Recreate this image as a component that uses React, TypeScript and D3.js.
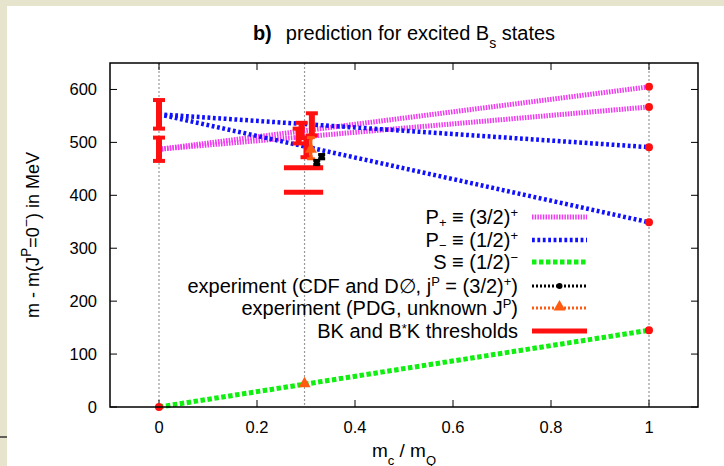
import React from "react";
import * as d3 from "d3";

const W = 724, H = 466;
const xTicks = [0, 0.2, 0.4, 0.6, 0.8, 1];
const xTickLabels = ["0", "0.2", "0.4", "0.6", "0.8", "1"];
const yTicks = [0, 100, 200, 300, 400, 500, 600];
const gridX = [0, 0.297, 1];

const lineX = [0, 1];
const pPlusA = [487, 605];
const pPlusB = [487, 567];
const pMinusA = [553, 491];
const pMinusB = [553, 349];
const sWave = [0, 145];

// lattice error bars: x, y, err
const latX = [0, 0, 0.285, 0.291, 0.301, 0.312];
const latY = [553, 487, 512, 523, 490, 534];
const latErr = [27, 22, 14, 14, 18, 21];

const expX = [0.322, 0.332];
const expY = [462, 473];
const expErr = [4, 4];

const pdgX = [0.31, 0.297];
const pdgY = [489, 46];
const pdgErr = [20, 0];

const thrLo = 0.255, thrHi = 0.335;
const thresholds = [406, 452];

const endX = [1, 1, 1, 1, 1, 0];
const endY = [605, 567, 491, 349, 145, 0];

const L = 110, R = 698, T = 63, B = 407;
const x = d3.scaleLinear().domain([-0.1, 1.1]).range([L, R]);
const y = d3.scaleLinear().domain([0, 650]).range([B, T]);

const MAG = "#f03cf0", BLU = "#1010ff", GRN = "#10f010", RED = "#ff1010", ORG = "#ff5a10";
const font = "'Liberation Sans', Arial, Helvetica, sans-serif";

function Seg({ ys, color, w, dash }: any) {
  const line = d3.line<number>().x((_, i) => x(lineX[i])).y((d) => y(d));
  return <path d={line(ys) || ""} stroke={color} strokeWidth={w} strokeDasharray={dash} fill="none" />;
}

function ErrBar({ cx, cy, err, color, w = 6, cap = 12, ct = 4 }: any) {
  const px = x(cx);
  return (
    <g stroke={color}>
      <line x1={px} x2={px} y1={y(cy - err)} y2={y(cy + err)} strokeWidth={w} />
      <line x1={px - cap / 2} x2={px + cap / 2} y1={y(cy - err)} y2={y(cy - err)} strokeWidth={ct} />
      <line x1={px - cap / 2} x2={px + cap / 2} y1={y(cy + err)} y2={y(cy + err)} strokeWidth={ct} />
    </g>
  );
}

function tri(cx: number, cy: number, s: number) {
  return `M${cx},${cy - s} L${cx + s},${cy + s * 0.75} L${cx - s},${cy + s * 0.75} Z`;
}

const sup = (t: string, fs = 13, sh: any = "super") => <tspan baselineShift={sh} fontSize={fs}>{t}</tspan>;
const sub = (t: string, fs = 13, sh: any = "sub") => <tspan baselineShift={sh} fontSize={fs}>{t}</tspan>;

export default function App() {
  const legX = 518, s1 = 532, s2 = 587;
  const rows = [217, 240, 262, 286, 308, 331];
  return (
    <div style={{ position: "absolute", left: 0, top: 0 }}>
      <svg width={W} height={H} style={{ display: "block" }} fontFamily={font}>
        <rect x={0} y={0} width={W} height={H} fill="#e6e4cd" />
        <rect x={7} y={6} width={W - 7} height={H - 6} fill="#ffffff" />
        <line x1={0} x2={7} y1={437} y2={437} stroke="#333" strokeWidth={1.5} />

        <text x={404} y={40} textAnchor="middle" fontSize={20}>
          <tspan fontWeight="bold">b)</tspan>
          <tspan dx={14}>{"prediction for excited B"}</tspan>
          {sub("s", 14)}
          <tspan>{" states"}</tspan>
        </text>

        {gridX.map((g, i) => (
          <line key={i} x1={x(g)} x2={x(g)} y1={T} y2={B} stroke="#999" strokeWidth={1.2} strokeDasharray="2,2" />
        ))}

        {/* ticks */}
        {yTicks.map((t) => (
          <g key={"y" + t} stroke="#000" strokeWidth={1}>
            <line x1={L} x2={L + 7} y1={y(t)} y2={y(t)} />
            <line x1={R} x2={R - 7} y1={y(t)} y2={y(t)} />
          </g>
        ))}
        {xTicks.map((t) => (
          <g key={"x" + t} stroke="#000" strokeWidth={1}>
            <line x1={x(t)} x2={x(t)} y1={B} y2={B - 7} />
            <line x1={x(t)} x2={x(t)} y1={T} y2={T + 7} />
          </g>
        ))}
        {yTicks.map((t) => (
          <text key={"yl" + t} x={97} y={y(t) + 6} textAnchor="end" fontSize={16.5}>{t}</text>
        ))}
        {xTicks.map((t, i) => (
          <text key={"xl" + t} x={x(t)} y={433} textAnchor="middle" fontSize={16.5}>{xTickLabels[i]}</text>
        ))}

        <text x={404} y={457} textAnchor="middle" fontSize={19}>
          <tspan>m</tspan>{sub("c", 13)}<tspan>{" / m"}</tspan>{sub("Q", 13)}
        </text>
        <text transform={`translate(39,${(T + B) / 2}) rotate(-90)`} textAnchor="middle" fontSize={18}>
          <tspan>{"m - m(J"}</tspan>{sup("P", 14)}<tspan>{"=0"}</tspan>{sup("\u2212", 14)}<tspan>{") in MeV"}</tspan>
        </text>

        {/* lines */}
        <Seg ys={sWave} color={GRN} w={5} dash="4.5,2.5" />
        <Seg ys={pPlusA} color={MAG} w={5} dash="1.5,1.2" />
        <Seg ys={pPlusB} color={MAG} w={5} dash="1.5,1.2" />
        <Seg ys={pMinusA} color={BLU} w={4.5} dash="2.8,2.6" />
        <Seg ys={pMinusB} color={BLU} w={4.5} dash="2.8,2.6" />

        {/* thresholds */}
        {thresholds.map((t, i) => (
          <line key={"th" + i} x1={x(thrLo)} x2={x(thrHi)} y1={y(t)} y2={y(t)} stroke={RED} strokeWidth={5} />
        ))}

        {/* lattice */}
        {latX.map((v, i) => (
          <ErrBar key={"lat" + i} cx={v} cy={latY[i]} err={latErr[i]} color={RED} />
        ))}
        {endX.map((v, i) => (
          <circle key={"e" + i} cx={x(v)} cy={y(endY[i])} r={4} fill={RED} />
        ))}

        {/* experiments */}
        {pdgX.map((v, i) => (
          <g key={"pdg" + i}>
            {pdgErr[i] > 0 && <ErrBar cx={v} cy={pdgY[i]} err={pdgErr[i]} color={ORG} w={3} cap={8} ct={3} />}
            <path d={tri(x(v), y(pdgY[i]), 6)} fill={ORG} />
          </g>
        ))}
        {expX.map((v, i) => (
          <g key={"exp" + i}>
            <ErrBar cx={v} cy={expY[i]} err={expErr[i]} color="#000" w={3} cap={7} ct={3} />
            <rect x={x(v) - 3} y={y(expY[i]) - 3} width={6} height={6} fill="#000" />
          </g>
        ))}

        {/* legend */}
        <g fontSize={20} textAnchor="end">
          <text x={legX} y={rows[0] + 7}>P{sub("+", 13, -3)}<tspan>{" \u2261 (3/2)"}</tspan>{sup("+", 13, 7)}</text>
          <text x={legX} y={rows[1] + 7}>P{sub("\u2212", 13, -3)}<tspan>{" \u2261 (1/2)"}</tspan>{sup("+", 13, 7)}</text>
          <text x={legX} y={rows[2] + 7}>S<tspan>{" \u2261 (1/2)"}</tspan>{sup("\u2212", 13, 7)}</text>
          <text x={legX} y={rows[3] + 7}>
            <tspan>{"experiment (CDF and D\u2205, j"}</tspan>{sup("P", 13, 7)}<tspan>{" = (3/2)"}</tspan>{sup("+", 13, 7)}<tspan>)</tspan>
          </text>
          <text x={legX} y={rows[4] + 7}>
            <tspan>{"experiment (PDG, unknown J"}</tspan>{sup("P", 13, 7)}<tspan>)</tspan>
          </text>
          <text x={legX} y={rows[5] + 7}>
            <tspan>{"BK and B"}</tspan>{sup("*", 13, 5)}<tspan>K thresholds</tspan>
          </text>
        </g>
        <line x1={s1} x2={s2} y1={rows[0]} y2={rows[0]} stroke={MAG} strokeWidth={5} strokeDasharray="1.5,1.2" />
        <line x1={s1} x2={s2} y1={rows[1]} y2={rows[1]} stroke={BLU} strokeWidth={4.5} strokeDasharray="2.8,2.6" />
        <line x1={s1} x2={s2} y1={rows[2]} y2={rows[2]} stroke={GRN} strokeWidth={5} strokeDasharray="4.5,2.5" />
        <line x1={s1} x2={s2} y1={rows[3]} y2={rows[3]} stroke="#000" strokeWidth={3} strokeDasharray="2,2" />
        <circle cx={(s1 + s2) / 2} cy={rows[3]} r={3} fill="#000" />
        <line x1={s1} x2={s2} y1={rows[4]} y2={rows[4]} stroke={ORG} strokeWidth={3} strokeDasharray="2,2" />
        <path d={tri((s1 + s2) / 2, rows[4] - 2, 6)} fill={ORG} />
        <line x1={s1} x2={s2} y1={rows[5]} y2={rows[5]} stroke={RED} strokeWidth={5} />

        <rect x={L} y={T} width={R - L} height={B - T} fill="none" stroke="#000" strokeWidth={1.5} />
      </svg>
    </div>
  );
}
